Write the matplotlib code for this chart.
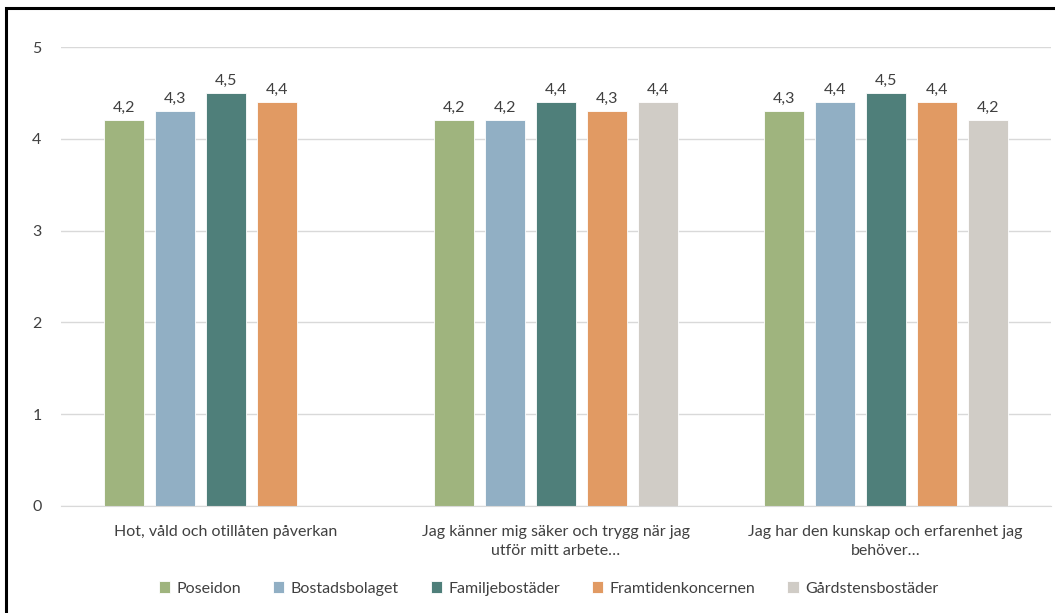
import numpy as np
import matplotlib.pyplot as plt
from matplotlib.patches import Rectangle

plt.rcParams['font.family'] = ['Lato', 'DejaVu Sans']

categories = ['Hot, våld och otillåten påverkan',
              'Jag känner mig säker och trygg när jag\nutför mitt arbete…',
              'Jag har den kunskap och erfarenhet jag\nbehöver…']
series = ['Poseidon', 'Bostadsbolaget', 'Familjebostäder', 'Framtidenkoncernen', 'Gårdstensbostäder']
poseidon = [4.2, 4.2, 4.3]
bostadsbolaget = [4.3, 4.2, 4.4]
familjebostader = [4.5, 4.4, 4.5]
framtiden = [4.4, 4.3, 4.4]
gardsten = [np.nan, 4.4, 4.2]
values = [poseidon, bostadsbolaget, familjebostader, framtiden, gardsten]
colors = ['#9FB47E', '#91AFC4', '#4F7F7A', '#E19A63', '#D0CCC6']

fig = plt.figure(figsize=(10.55, 6.13), dpi=100)
ax = fig.add_axes([0.0578, 0.1746, 0.938, 0.7487])

x = np.arange(len(categories))
width = 0.121
step = 0.1545
for i, (name, vals, c) in enumerate(zip(series, values, colors)):
    pos = x + (i - 2) * step
    bars = ax.bar(pos, vals, width, color=c, label=name, edgecolor='white', linewidth=0.6)
    for b, v in zip(bars, vals):
        if np.isnan(v):
            continue
        ax.text(b.get_x() + b.get_width() / 2, v + 0.06, f'{v:.1f}'.replace('.', ','),
                ha='center', va='bottom', fontsize=11.5, color='#404040')

ax.set_xlim(-0.5, 2.5)
ax.set_ylim(0, 5)
ax.set_yticks(range(6))
ax.yaxis.grid(True, color='#D9D9D9', linewidth=1)
ax.set_axisbelow(True)
for s in ['top', 'right', 'left']:
    ax.spines[s].set_visible(False)
ax.spines['bottom'].set_color('#D9D9D9')
ax.tick_params(axis='both', length=0, labelsize=11.5, colors='#404040')
ax.tick_params(axis='y', pad=14)
ax.tick_params(axis='x', pad=14)
ax.set_xticks(x)
ax.set_xticklabels(categories, linespacing=1.45)

fig.legend(loc='lower center', bbox_to_anchor=(0.52, 0.005), ncol=5, frameon=False,
           fontsize=11.5, handlelength=0.7, handleheight=0.7, handletextpad=0.4,
           columnspacing=2.0, labelcolor='#404040')

# frame around the chart
fig.patches.append(Rectangle((6 / 1055, -0.1), 1.2, 1 - 8 / 613 + 0.1,
                             transform=fig.transFigure, fill=False,
                             edgecolor='black', linewidth=2.2))

fig.savefig('out.png', dpi=100)
